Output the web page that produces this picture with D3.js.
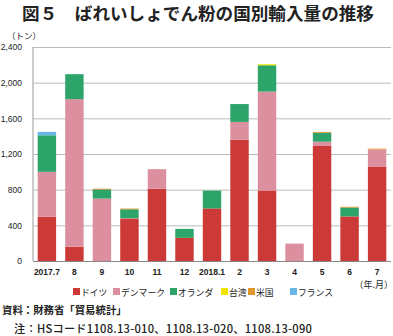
<!DOCTYPE html>
<html><head><meta charset="utf-8">
<script src="https://cdn.jsdelivr.net/npm/d3@7"></script>
<style>body{margin:0;background:#fff}svg{display:block;font-family:"Noto Sans CJK JP","Noto Sans",sans-serif}</style>
</head><body><svg id="c" width="393" height="336"></svg>
<script>
const categories = ["2017.7","8","9","10","11","12","2018.1","2","3","4","5","6","7"];
const seriesNames = ["ドイツ","デンマーク","オランダ","台湾","米国","フランス"];
const germany  = [495,160,0,475,810,260,590,1360,790,0,1290,500,1055];
const denmark  = [505,1655,700,5,220,0,0,200,1110,195,48,0,195];
const netherl  = [410,280,105,100,0,100,200,200,295,0,100,100,0];
const taiwan   = [0,0,0,0,0,0,0,0,12,0,0,0,0];
const usa      = [0,0,5,8,0,0,0,0,0,0,10,8,10];
const france   = [38,0,0,0,0,0,0,0,0,0,0,0,0];
const colors = ["#cb3a36","#dc909f","#2ca46a","#f2e600","#e0952d","#67b6e6"];
const yTicks = [0,400,800,1200,1600,2000,2400];

const svg = d3.select("#c");
const m = {l:33, r:391, t:47, b:261};
const x = d3.scaleBand().domain(categories).range([m.l, m.r]).paddingInner(0.33).paddingOuter(0.17);
const y = d3.scaleLinear().domain([0,2400]).range([m.b, m.t]);

svg.append("text").attr("x",198).attr("y",20).attr("text-anchor","middle")
  .attr("font-size",17.6).attr("font-weight",700).attr("fill","#222")
  .text("図５　ばれいしょでん粉の国別輸入量の推移");

// grid
const yAxis = d3.axisLeft(y).tickValues(yTicks).tickSize(m.l - m.r).tickFormat(d3.format(","));
const ga = svg.append("g").attr("transform",`translate(${m.l},0)`).call(yAxis);
ga.select(".domain").attr("stroke","#999").attr("d",`M0,${m.t}V${m.b}`);
ga.selectAll(".tick line").attr("stroke","#bbb").attr("stroke-width",1);
ga.selectAll(".tick text").attr("x",-11).attr("font-size",8.5).attr("fill","#222")
  .attr("font-family","Liberation Sans, Arial, sans-serif");

svg.append("text").attr("x",24).attr("y",39).attr("text-anchor","middle")
  .attr("font-size",8.5).attr("fill","#222").text("（トン）");

// stacked bars
const rows = categories.map((c,i)=>({cat:c, s0:germany[i], s1:denmark[i], s2:netherl[i], s3:taiwan[i], s4:usa[i], s5:france[i]}));
const stack = d3.stack().keys(["s0","s1","s2","s3","s4","s5"])(rows);
svg.append("g").selectAll("g").data(stack).join("g").attr("fill",(d,i)=>colors[i])
  .selectAll("rect").data(d=>d.filter(p=>p[1]-p[0]>0)).join("rect")
  .attr("x",d=>x(d.data.cat)).attr("width",x.bandwidth())
  .attr("y",d=>y(d[1])).attr("height",d=>Math.max(0.8,y(d[0])-y(d[1])));

// baseline
svg.append("line").attr("x1",m.l).attr("x2",m.r).attr("y1",m.b+0.5).attr("y2",m.b+0.5).attr("stroke","#888");

// x labels
const xAxis = d3.axisBottom(x).tickSize(0).tickPadding(8);
const gx = svg.append("g").attr("transform",`translate(0,${m.b})`).call(xAxis);
gx.select(".domain").remove();
gx.selectAll("text").attr("font-size",8.5).attr("fill","#222").attr("font-weight",700)
  .attr("font-family","Liberation Sans, Arial, sans-serif");
svg.append("text").attr("x",393).attr("y",288).attr("text-anchor","end")
  .attr("font-size",9).attr("fill","#222").text("（年.月）");

// legend
const legX = [73,113,170,221,248,290];
const lg = svg.append("g").selectAll("g").data(seriesNames).join("g")
  .attr("transform",(d,i)=>`translate(${legX[i]},292)`);
lg.append("rect").attr("x",0).attr("y",-4).attr("width",7).attr("height",7).attr("fill",(d,i)=>colors[i]);
lg.append("text").attr("x",8).attr("y",3.5).attr("font-size",8.8).attr("fill","#222").text(d=>d);

svg.append("text").attr("x",2).attr("y",314).attr("font-size",10.4).attr("font-weight",700).attr("fill","#222")
  .text("資料：財務省「貿易統計」");
svg.append("text").attr("x",14).attr("y",333).attr("font-size",11.2).attr("font-weight",500).attr("fill","#222")
  .attr("textLength",298).attr("lengthAdjust","spacing")
  .text("注：HSコード1108.13-010、1108.13-020、1108.13-090");
</script></body></html>
